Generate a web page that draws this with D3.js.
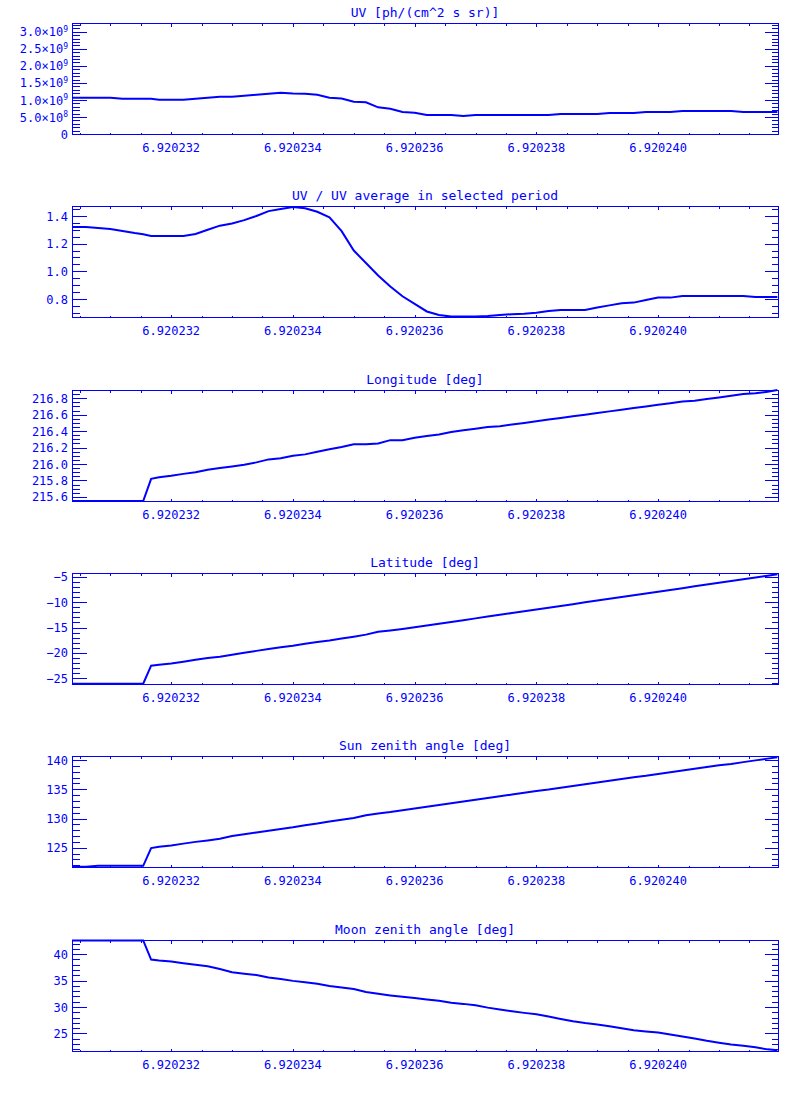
<!DOCTYPE html>
<html>
<head>
<meta charset="utf-8">
<script src="https://cdn.jsdelivr.net/npm/d3@7"></script>
<style>
  html, body { margin: 0; padding: 0; background: #ffffff; }
  svg { display: block; }
  text { font-family: "DejaVu Sans Mono", monospace; fill: #0000ff; }
</style>
</head>
<body>
<svg id="chart" width="800" height="1100"></svg>
<script>
// ---------------- DATA ----------------
const times = [
  6.92023037, 6.9202306, 6.9202308, 6.920231, 6.9202312, 6.9202314, 6.92023154, 6.92023167,
  6.9202318, 6.920232, 6.9202322, 6.9202324, 6.9202326, 6.9202328, 6.920233, 6.9202332,
  6.9202334, 6.9202336, 6.9202338, 6.920234, 6.9202342, 6.9202344, 6.9202346, 6.9202348,
  6.920235, 6.9202352, 6.9202354, 6.9202356, 6.9202358, 6.920236, 6.9202362, 6.9202364,
  6.9202366, 6.9202368, 6.920237, 6.9202372, 6.9202374, 6.9202376, 6.9202378, 6.920238,
  6.9202382, 6.9202384, 6.9202386, 6.9202388, 6.920239, 6.9202392, 6.9202394, 6.9202396,
  6.9202398, 6.92024, 6.9202402, 6.9202404, 6.9202406, 6.9202408, 6.920241, 6.9202412,
  6.9202414, 6.9202416, 6.9202418, 6.92024196
];

const uvFlux = [
  1.066e9, 1.066e9, 1.066e9, 1.066e9, 1.037e9, 1.037e9, 1.037e9, 1.037e9,
  1.007e9, 1.007e9, 1.007e9, 1.037e9, 1.066e9, 1.095e9, 1.095e9, 1.125e9,
  1.154e9, 1.184e9, 1.213e9, 1.190e9, 1.184e9, 1.154e9, 1.066e9, 1.043e9,
  0.949e9, 0.930e9, 0.784e9, 0.743e9, 0.646e9, 0.625e9, 0.558e9, 0.558e9,
  0.558e9, 0.529e9, 0.558e9, 0.558e9, 0.558e9, 0.558e9, 0.558e9, 0.558e9,
  0.558e9, 0.587e9, 0.587e9, 0.587e9, 0.587e9, 0.617e9, 0.617e9, 0.617e9,
  0.646e9, 0.646e9, 0.646e9, 0.675e9, 0.675e9, 0.675e9, 0.675e9, 0.675e9,
  0.646e9, 0.646e9, 0.646e9, 0.646e9
];

const uvRatio = [
  1.320, 1.320, 1.313, 1.306, 1.292, 1.277, 1.268, 1.255,
  1.255, 1.255, 1.255, 1.270, 1.300, 1.330, 1.345, 1.370,
  1.400, 1.435, 1.450, 1.465, 1.456, 1.430, 1.390, 1.290,
  1.150, 1.060, 0.970, 0.890, 0.820, 0.765, 0.710, 0.685,
  0.673, 0.673, 0.673, 0.677, 0.684, 0.690, 0.694, 0.700,
  0.713, 0.720, 0.720, 0.720, 0.738, 0.754, 0.770, 0.774,
  0.793, 0.810, 0.810, 0.822, 0.822, 0.822, 0.822, 0.822,
  0.822, 0.814, 0.814, 0.814
];

const longitude = [
  215.55, 215.55, 215.55, 215.55, 215.55, 215.55, 215.55, 215.82,
  215.84, 215.856, 215.88, 215.90, 215.93, 215.95, 215.97, 215.99,
  216.02, 216.056, 216.07, 216.10, 216.117, 216.15, 216.18, 216.206,
  216.24, 216.24, 216.25, 216.29, 216.29, 216.32, 216.34, 216.36,
  216.39, 216.41, 216.43, 216.45, 216.46, 216.48, 216.50, 216.52,
  216.54, 216.56, 216.58, 216.60, 216.62, 216.64, 216.66, 216.68,
  216.70, 216.72, 216.74, 216.76, 216.77, 216.79, 216.81, 216.83,
  216.85, 216.86, 216.88, 216.90
];

const latitude = [
  -26.05, -26.05, -26.05, -26.05, -26.05, -26.05, -26.05, -22.52,
  -22.35, -22.10, -21.75, -21.35, -21.00, -20.75, -20.35, -19.95,
  -19.60, -19.24, -18.90, -18.60, -18.20, -17.85, -17.55, -17.15,
  -16.80, -16.40, -15.85, -15.60, -15.30, -14.95, -14.60, -14.25,
  -13.90, -13.55, -13.20, -12.85, -12.50, -12.15, -11.80, -11.45,
  -11.10, -10.75, -10.40, -10.05, -9.70, -9.35, -9.00, -8.65,
  -8.30, -7.95, -7.60, -7.25, -6.90, -6.55, -6.20, -5.85,
  -5.50, -5.15, -4.80, -4.50
];

const sunZenith = [
  121.73, 121.73, 121.90, 121.90, 121.90, 121.90, 121.90, 124.93,
  125.15, 125.40, 125.70, 126.00, 126.25, 126.53, 127.00, 127.30,
  127.60, 127.90, 128.20, 128.50, 128.85, 129.15, 129.50, 129.80,
  130.10, 130.55, 130.85, 131.10, 131.40, 131.70, 132.00, 132.30,
  132.60, 132.90, 133.20, 133.50, 133.80, 134.10, 134.40, 134.70,
  134.95, 135.25, 135.55, 135.85, 136.15, 136.45, 136.75, 137.05,
  137.30, 137.60, 137.90, 138.20, 138.50, 138.80, 139.10, 139.35,
  139.65, 139.95, 140.25, 140.50
];

const moonZenith = [
  42.60, 42.60, 42.60, 42.60, 42.60, 42.60, 42.60, 38.99,
  38.80, 38.60, 38.30, 38.00, 37.70, 37.20, 36.60, 36.30,
  36.05, 35.60, 35.30, 34.95, 34.70, 34.40, 34.00, 33.70,
  33.40, 32.85, 32.50, 32.20, 31.95, 31.69, 31.44, 31.20,
  30.82, 30.60, 30.32, 29.89, 29.55, 29.20, 28.90, 28.63,
  28.20, 27.75, 27.32, 26.98, 26.70, 26.38, 26.00, 25.63,
  25.40, 25.20, 24.82, 24.45, 24.07, 23.63, 23.25, 22.92,
  22.68, 22.39, 22.00, 21.85
];

const panelTitles = [
  "UV [ph/(cm^2 s sr)]",
  "UV / UV average in selected period",
  "Longitude [deg]",
  "Latitude [deg]",
  "Sun zenith angle [deg]",
  "Moon zenith angle [deg]"
];

const xDomain = [6.92023037, 6.92024197];
const xMajorTicks = [6.920232, 6.920234, 6.920236, 6.920238, 6.920240];
const xTickLabels = ["6.920232", "6.920234", "6.920236", "6.920238", "6.920240"];
const xMinorStep = 0.5e-6;

const yDomains = [
  [0, 3.26e9],
  [0.67, 1.472],
  [215.55, 216.90],
  [-26.12, -4.27],
  [121.7, 140.7],
  [21.69, 42.68]
];

const yMajorTicks = [
  [0, 5e8, 1e9, 1.5e9, 2e9, 2.5e9, 3e9],
  [0.8, 1.0, 1.2, 1.4],
  [215.6, 215.8, 216.0, 216.2, 216.4, 216.6, 216.8],
  [-25, -20, -15, -10, -5],
  [125, 130, 135, 140],
  [25, 30, 35, 40]
];

const yTickLabels = [
  ["0", "5.0×10", "1.0×10", "1.5×10", "2.0×10", "2.5×10", "3.0×10"],
  ["0.8", "1.0", "1.2", "1.4"],
  ["215.6", "215.8", "216.0", "216.2", "216.4", "216.6", "216.8"],
  ["−25", "−20", "−15", "−10", "−5"],
  ["125", "130", "135", "140"],
  ["25", "30", "35", "40"]
];
const yTickExponents = [
  ["", "8", "9", "9", "9", "9", "9"],
  [], [], [], [], []
];

const yMinorSteps = [1e8, 0.05, 0.05, 1, 1, 1];

const series = [uvFlux, uvRatio, longitude, latitude, sunZenith, moonZenith];

// ---------------- LAYOUT ----------------
const BLUE = "#0000ff";
const left = 72, right = 778;
const firstTop = 23, panelGap = 183.3, panelH = 111;
const yMajorLen = 14, yMinorLen = 7, xMajorLen = 3, xMinorLen = 2;

const svg = d3.select("#chart");
const x = d3.scaleLinear().domain(xDomain).range([left, right]);

function minorValues(domain, step) {
  const lo = Math.ceil(domain[0] / step - 1e-6);
  const hi = Math.floor(domain[1] / step + 1e-6);
  return d3.range(lo, hi + 1).map(k => k * step);
}

const xMinors = minorValues(xDomain, xMinorStep);

series.forEach((vals, i) => {
  const top = Math.round(firstTop + i * panelGap);
  const bottom = top + panelH;
  const y = d3.scaleLinear().domain(yDomains[i]).range([bottom, top]);
  const g = svg.append("g");

  // title
  g.append("text")
    .attr("x", (left + right) / 2)
    .attr("y", top - 6)
    .attr("text-anchor", "middle")
    .attr("font-size", 13)
    .text(panelTitles[i]);

  // frame
  g.append("rect")
    .attr("x", left + 0.5).attr("y", top + 0.5)
    .attr("width", right - left).attr("height", panelH)
    .attr("fill", "none").attr("stroke", BLUE).attr("stroke-width", 1)
    .attr("shape-rendering", "crispEdges");

  const tickG = g.append("g").attr("stroke", BLUE).attr("stroke-width", 1)
    .attr("shape-rendering", "crispEdges");

  // x ticks (bottom and top)
  const xMajorSet = xMajorTicks.map(v => Math.round(x(v)));
  xMinors.forEach(v => {
    const px = Math.round(x(v)) + 0.5;
    const isMajor = xMajorSet.includes(Math.round(x(v)));
    const len = isMajor ? xMajorLen : xMinorLen;
    tickG.append("line").attr("x1", px).attr("x2", px)
      .attr("y1", bottom + 0.5).attr("y2", bottom + 0.5 - len);
    tickG.append("line").attr("x1", px).attr("x2", px)
      .attr("y1", top + 0.5).attr("y2", top + 0.5 + len);
  });

  // y ticks (left and right)
  const majorsY = yMajorTicks[i];
  minorValues(yDomains[i], yMinorSteps[i]).forEach(v => {
    const isMajor = majorsY.some(m => Math.abs(m - v) < yMinorSteps[i] * 1e-3);
    const len = isMajor ? yMajorLen : yMinorLen;
    const py = Math.round(y(v)) + 0.5;
    tickG.append("line").attr("x1", left + 0.5).attr("x2", left + 0.5 + len)
      .attr("y1", py).attr("y2", py);
    tickG.append("line").attr("x1", right + 0.5).attr("x2", right + 0.5 - len)
      .attr("y1", py).attr("y2", py);
  });

  // x tick labels
  xMajorTicks.forEach((v, k) => {
    g.append("text")
      .attr("x", x(v))
      .attr("y", bottom + 18)
      .attr("text-anchor", "middle")
      .attr("font-size", 12)
      .text(xTickLabels[k]);
  });

  // y tick labels
  majorsY.forEach((v, k) => {
    const exps = yTickExponents[i];
    const t = g.append("text")
      .attr("x", left - 4)
      .attr("y", y(v))
      .attr("dy", "0.38em")
      .attr("text-anchor", "end")
      .attr("font-size", 12);
    t.append("tspan").text(yTickLabels[i][k]);
    if (exps[k]) {
      t.append("tspan").attr("font-size", 8).attr("dy", "-0.55em").text(exps[k]);
    }
  });

  // data line
  const line = d3.line().x((d, k) => x(times[k])).y(d => y(d));
  g.append("path")
    .datum(vals)
    .attr("d", line)
    .attr("fill", "none")
    .attr("stroke", BLUE)
    .attr("stroke-width", 2)
    .attr("stroke-linejoin", "miter");
});
</script>
</body>
</html>
